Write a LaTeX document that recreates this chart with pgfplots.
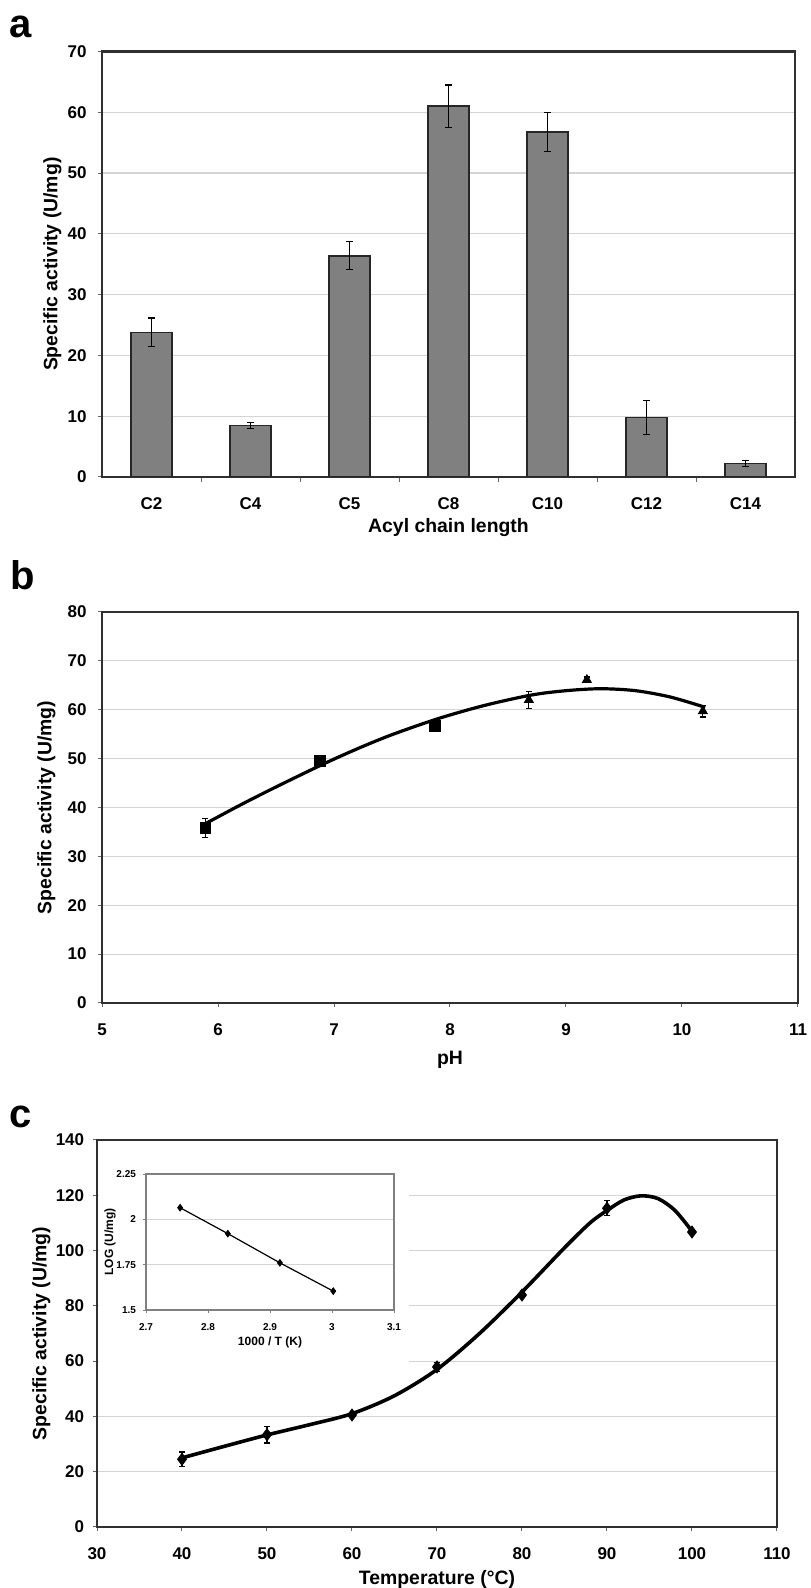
\documentclass[border=0pt]{standalone}
\usepackage{fontspec}
\setmainfont{Liberation Sans}
\usepackage{pgfplots}
\pgfplotsset{compat=1.18}
\definecolor{bargray}{HTML}{808080}
\definecolor{gridgray}{HTML}{D4D4D4}
\definecolor{framec}{HTML}{303030}
\pgfplotsset{
  base/.style={
    scale only axis,
    anchor=south west,
    axis line style={framec, line width=1.1pt},
    ymajorgrids,
    grid style={gridgray, line width=0.6pt},
    tick align=outside,
    major tick length=2pt,
    tick style={black!60, line width=0.5pt},
    xtick pos=left, ytick pos=left,
    /pgf/number format/assume math mode=true,
    ticklabel style={font=\fontsize{8.5}{10}\selectfont\bfseries},
    label style={font=\fontsize{9.7}{11}\selectfont\bfseries},
    xticklabel style={yshift=-5pt},
  },
  ebars/.style={error bars/.cd, y dir=both, y explicit,
    error bar style={black, line width=0.6pt},
    error mark options={rotate=90, mark size=1.6pt, black, line width=0.6pt}},
}
\begin{document}
\begin{tikzpicture}
\useasboundingbox (0,0) rectangle (405pt,794pt);
% ---------------- panel a
\begin{axis}[base, at={(51pt,555.5pt)}, width=346.5pt, height=212.75pt,
  xmin=-0.5, xmax=6.5, ymin=0, ymax=70, ytick={0,10,...,70},
  xtick={0,...,6}, xticklabels={C2,C4,C5,C8,C10,C12,C14},
  minor xtick={0.5,1.5,...,5.5}, major x tick style={draw=none},
  minor tick length=2.5pt,
  yticklabel style={xshift=-2.2pt},
  ybar, bar width=20.5pt,
  xlabel={Acyl chain length}, ylabel={Specific activity (U/mg)},
  xlabel style={at={([yshift=-25.5pt]axis description cs:0.5,0)}, anchor=center},
  ylabel style={at={([xshift=-24.75pt]axis description cs:0,0.5)}, anchor=center},
]
\addplot[fill=bargray, draw=black!85, line width=0.8pt, ebars] coordinates {
 (0,23.8) +- (0,2.35)
 (1,8.5)  +- (0,0.5)
 (2,36.4) +- (0,2.3)
 (3,61.0) +- (0,3.5)
 (4,56.8) +- (0,3.2)
 (5,9.8)  +- (0,2.8)
 (6,2.2)  +- (0,0.5)
};
\end{axis}
\node[font=\fontsize{20}{20}\selectfont\bfseries, anchor=base west, inner sep=0pt] at (4.5pt,775pt) {a};
% ---------------- panel b
\begin{axis}[base, at={(51pt,292.5pt)}, width=348pt, height=195.5pt,
  xmin=5, xmax=11, ymin=0, ymax=80, xtick={5,...,11}, ytick={0,10,...,80},
  yticklabel style={xshift=-2.2pt},
  xlabel={pH}, ylabel={Specific activity (U/mg)},
  xlabel style={at={([yshift=-28.5pt]axis description cs:0.5,0)}, anchor=center},
  ylabel style={at={([xshift=-27.75pt]axis description cs:0,0.5)}, anchor=center},
]
\addplot[black, line width=1.6pt, smooth] coordinates {
 (5.9,36.8) (6.2,40.6) (6.5,44.2) (6.9,48.8) (7.2,52.0) (7.5,54.9) (7.9,58.2)
 (8.3,60.9) (8.7,63.0) (9.0,63.9) (9.3,64.3) (9.6,63.9) (9.9,62.6) (10.2,60.5)
};
\addplot[only marks, mark=square*, mark size=2.6pt, black, ebars] coordinates {
 (5.89,35.8) +- (0,2.0)
 (6.88,49.5) +- (0,0.5)
 (7.87,56.7) +- (0,0.6)
};
\addplot[only marks, mark=triangle*, mark size=2.6pt, black, ebars] coordinates {
 (8.68,62.0) +- (0,1.8)
 (9.18,66.1) +- (0,0.6)
 (10.18,59.7) +- (0,1.2)
};
\end{axis}
\node[font=\fontsize{20}{20}\selectfont\bfseries, anchor=base west, inner sep=0pt] at (5pt,499pt) {b};
% ---------------- panel c
\begin{axis}[base, at={(48.5pt,30.5pt)}, width=340pt, height=193.5pt,
  xmin=30, xmax=110, ymin=0, ymax=140, xtick={30,40,...,110}, ytick={0,20,...,140},
  yticklabel style={xshift=-0.9pt},
  xlabel={Temperature (°C)}, ylabel={Specific activity (U/mg)},
  xlabel style={at={([yshift=-26pt]axis description cs:0.5,0)}, anchor=center},
  ylabel style={at={([xshift=-27.75pt]axis description cs:0,0.5)}, anchor=center},
]
\addplot[black, line width=1.8pt, smooth] coordinates {
 (40,25) (45,29.2) (50,33.3) (55,37) (60,41) (65,47.5) (70,57) (75,70)
 (80,85) (85,101) (88,110) (90,114.5) (92,118.3) (94,119.8) (96,118.8)
 (98,114.5) (100,107)
};
\addplot[only marks, mark=diamond*, mark size=3pt, black, ebars] coordinates {
 (40,24.5)  +- (0,2.6)
 (50,33.4)  +- (0,3.0)
 (60,40.5)  +- (0,1.0)
 (70,57.9)  +- (0,1.6)
 (80,83.9)  +- (0,1.0)
 (90,115.3) +- (0,2.7)
 (100,106.7) +- (0,0.8)
};
\end{axis}
\node[font=\fontsize{20}{20}\selectfont\bfseries, anchor=base west, inner sep=0pt] at (4.5pt,230pt) {c};
% inset background
\fill[white] (49.7pt,108pt) rectangle (204.5pt,223.4pt);
% ---------------- inset
\begin{axis}[scale only axis, anchor=south west, at={(73pt,139pt)}, width=124pt, height=68pt,
  xmin=2.7, xmax=3.1, ymin=1.5, ymax=2.25,
  xtick={2.7,2.8,2.9,3,3.1}, ytick={1.5,1.75,2,2.25},
  axis line style={black!50, line width=0.6pt},
  ymajorgrids, grid style={gridgray, line width=0.5pt},
  tick align=outside, major tick length=1.5pt, tick style={black!50, line width=0.4pt},
  xtick pos=left, ytick pos=left,
  /pgf/number format/assume math mode=true,
  ticklabel style={font=\fontsize{5}{6}\selectfont\bfseries},
  xticklabel style={yshift=-1.8pt},
  label style={font=\fontsize{6}{7}\selectfont\bfseries},
  xlabel={1000 / T (K)}, ylabel={LOG (U/mg)},
  xlabel style={at={([yshift=-16pt]axis description cs:0.5,0)}, anchor=center},
  ylabel style={at={([xshift=-18pt]axis description cs:0,0.5)}, anchor=center},
]
\addplot[black, line width=0.6pt, mark=diamond*, mark size=1.5pt] coordinates {
 (2.755,2.064) (2.832,1.921) (2.916,1.760) (3.002,1.604)
};
\end{axis}
\end{tikzpicture}
\end{document}
